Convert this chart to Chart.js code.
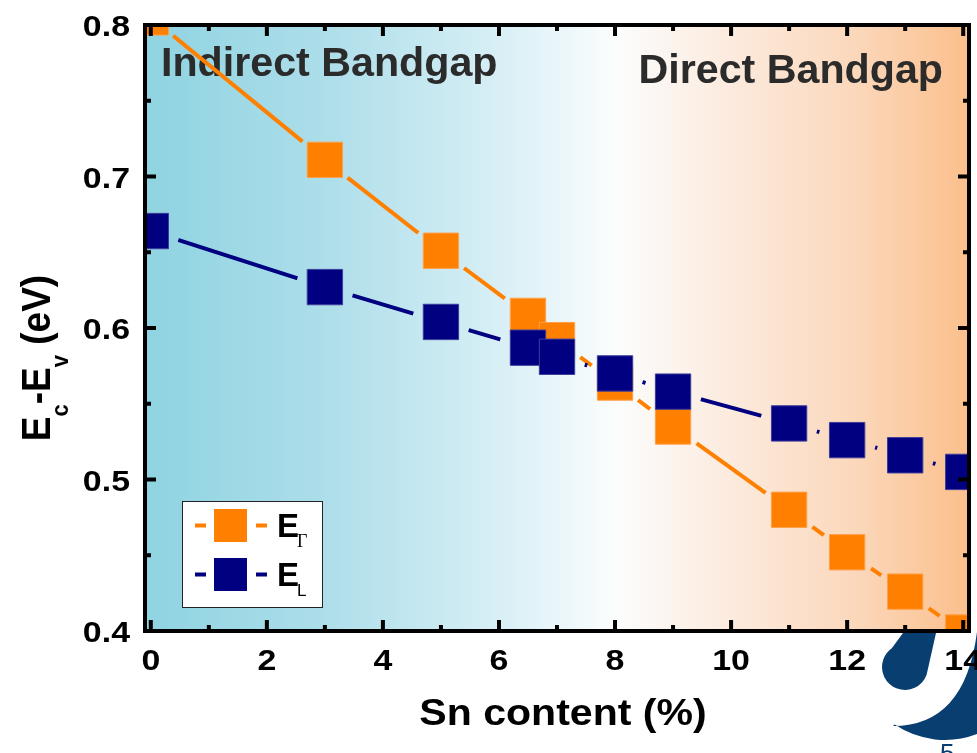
<!DOCTYPE html>
<html>
<head>
<meta charset="utf-8">
<script src="https://cdn.jsdelivr.net/npm/chart.js@4.4.1/dist/chart.umd.min.js"></script>
<style>
  html, body { margin: 0; padding: 0; background: #fff; }
  canvas { display: block; }
</style>
</head>
<body>
<canvas id="bandgap" width="977" height="753"></canvas>
<script>
// Sn content (%) against band edge energies (eV)
const snContent = [0, 3, 5, 6.5, 7, 8, 9, 11, 12, 13, 14];
const eGamma = [0.805, 0.711, 0.651, 0.608, 0.592, 0.564, 0.535, 0.480, 0.452, 0.426, 0.399];
const eL = [0.664, 0.627, 0.604, 0.587, 0.581, 0.570, 0.558, 0.537, 0.526, 0.516, 0.505];
const seriesNames = [['E', 'Γ'], ['E', 'L']];
const seriesColors = ['#ff8000', '#000080'];
const xTicks = [0, 2, 4, 6, 8, 10, 12, 14];
const yTicks = [0.4, 0.5, 0.6, 0.7, 0.8];
const xTitle = 'Sn content (%)';
const regionNames = ['Indirect Bandgap', 'Direct Bandgap'];

const FONT = '"Liberation Sans", Arial, sans-serif';
const GAP = 29; // radius of the hole in the line round each marker

function pts(ys) {
  return snContent.map((x, i) => ({ x: x, y: ys[i] }));
}

function stretchText(ctx, txt, x, y, font, align, sx) {
  ctx.save();
  ctx.translate(x, y);
  ctx.scale(sx, 1);
  ctx.font = font;
  ctx.textAlign = align;
  ctx.textBaseline = 'alphabetic';
  ctx.fillText(txt, 0, 0);
  ctx.restore();
}

function minors(ticks) {
  const out = [];
  for (let i = 0; i < ticks.length - 1; i++) out.push((ticks[i] + ticks[i + 1]) / 2);
  return out;
}

////////////////////////////// gradient background + region names //////////////////////////////
const backdrop = {
  id: 'backdrop',
  beforeDatasetsDraw(chart) {
    const { ctx, chartArea: a } = chart;
    const g = ctx.createLinearGradient(a.left, 0, a.right, 0);
    g.addColorStop(0, '#8fd3e1');
    g.addColorStop(0.22, '#addeea');
    g.addColorStop(0.44, '#daf0f6');
    g.addColorStop(0.57, '#fbfdfd');
    g.addColorStop(0.7, '#fcece0');
    g.addColorStop(0.86, '#fbd8bc');
    g.addColorStop(1, '#fbbf8c');
    ctx.save();
    ctx.fillStyle = g;
    ctx.fillRect(a.left, a.top, a.width, a.height);
    ctx.fillStyle = '#2b2b2b';
    stretchText(ctx, regionNames[0], a.left + 16, a.top + 51, 'bold 40px ' + FONT, 'left', 1.03);
    stretchText(ctx, regionNames[1], a.right - 26, a.top + 58, 'bold 40px ' + FONT, 'right', 1.03);
    ctx.restore();
  }
};

////////////////////////////// holes in the lines round the markers //////////////////////////////
const lineGaps = {
  id: 'lineGaps',
  beforeDatasetDraw(chart, args) {
    const ds = chart.data.datasets[args.index];
    if (!ds.gapped) return;
    const { ctx, scales } = chart;
    ctx.save();
    ds.data.forEach(p => {
      const cx = scales.x.getPixelForValue(p.x);
      const cy = scales.y.getPixelForValue(p.y);
      ctx.beginPath();
      ctx.rect(0, 0, chart.width, chart.height);
      ctx.moveTo(cx + GAP, cy);
      ctx.arc(cx, cy, GAP, 0, Math.PI * 2);
      ctx.clip('evenodd');
    });
  },
  afterDatasetDraw(chart, args) {
    if (chart.data.datasets[args.index].gapped) chart.ctx.restore();
  }
};

////////////////////////////// frame, inward ticks, legend //////////////////////////////
const frame = {
  id: 'frame',
  afterDatasetsDraw(chart) {
    const { ctx, chartArea: a, scales } = chart;
    ctx.save();
    ctx.strokeStyle = '#000';
    ctx.lineWidth = 4;
    ctx.strokeRect(a.left, a.top, a.width, a.height);
    const tick = (x1, y1, x2, y2) => {
      ctx.beginPath(); ctx.moveTo(x1, y1); ctx.lineTo(x2, y2); ctx.stroke();
    };
    [[xTicks, 11], [minors(xTicks), 6]].forEach(([vals, len]) => {
      vals.forEach(v => {
        const px = scales.x.getPixelForValue(v);
        tick(px, a.bottom, px, a.bottom - len);
        tick(px, a.top, px, a.top + len);
      });
    });
    [[yTicks, 11], [minors(yTicks), 6]].forEach(([vals, len]) => {
      vals.forEach(v => {
        const py = scales.y.getPixelForValue(v);
        tick(a.left, py, a.left + len, py);
        tick(a.right, py, a.right - len, py);
      });
    });

    // legend
    const bx = a.left + 37, by = a.bottom - 130;
    ctx.fillStyle = '#fff';
    ctx.fillRect(bx, by, 140, 106);
    ctx.lineWidth = 1;
    ctx.strokeStyle = '#222';
    ctx.strokeRect(bx + 0.5, by + 0.5, 140, 106);
    seriesNames.forEach((nm, i) => {
      const cy = by + 24.5 + i * 49;
      ctx.strokeStyle = seriesColors[i];
      ctx.lineWidth = 4;
      tick(bx + 13, cy, bx + 24, cy);
      tick(bx + 74, cy, bx + 85, cy);
      ctx.fillStyle = seriesColors[i];
      ctx.fillRect(bx + 32, cy - 16.5, 33, 33);
      ctx.fillStyle = '#000';
      ctx.font = 'bold 33px ' + FONT;
      ctx.textAlign = 'left';
      ctx.fillText(nm[0], bx + 95, cy + 11.5);
      ctx.font = i === 0 ? '18px "Liberation Serif", "Times New Roman", serif' : '17px ' + FONT;
      ctx.fillText(nm[1], bx + 115, cy + 21.5);
    });
    ctx.restore();
  }
};

////////////////////////////// tick labels, axis titles, logo //////////////////////////////
function drawLogo(ctx) {
  ctx.save();
  ctx.fillStyle = '#083e70';
  const d = Math.PI / 180;
  ctx.beginPath();
  ctx.moveTo(936, 633);
  ctx.lineTo(905 + 23 * Math.cos(20 * d), 667 + 23 * Math.sin(20 * d));
  ctx.arc(905, 667, 23, 20 * d, 235 * d);
  ctx.lineTo(903, 633);
  ctx.closePath();
  ctx.fill();
  ctx.beginPath();
  ctx.moveTo(893, 726);
  ctx.quadraticCurveTo(965, 726, 977, 632);
  ctx.lineTo(977, 734);
  ctx.arc(945, 650, 90, 69 * d, 124 * d);
  ctx.closePath();
  ctx.fill();
  ctx.font = '26px ' + FONT;
  ctx.fillText('5', 940, 762);
  ctx.restore();
}

const labels = {
  id: 'labels',
  afterDraw(chart) {
    const { ctx, chartArea: a, scales } = chart;
    drawLogo(ctx);
    ctx.save();
    ctx.fillStyle = '#000';
    xTicks.forEach(v => {
      stretchText(ctx, String(v), scales.x.getPixelForValue(v), a.bottom + 39, 'bold 30px ' + FONT, 'center', 1.13);
    });
    yTicks.forEach(v => {
      stretchText(ctx, v.toFixed(1), a.left - 15, scales.y.getPixelForValue(v) + 11, 'bold 30px ' + FONT, 'right', 1.13);
    });
    stretchText(ctx, xTitle, 563, a.bottom + 94, 'bold 36px ' + FONT, 'center', 1.14);

    // y title: E_c-E_v (eV), rotated
    const big = 'bold 37px ' + FONT, sub = 'bold 22px ' + FONT;
    const parts = [['E', big, 0], ['c', sub, 16], ['-E', big, 0], ['v', sub, 16], [' (eV)', big, 0]];
    let total = 0;
    parts.forEach(p => { ctx.font = p[1]; total += ctx.measureText(p[0]).width; });
    ctx.translate(50, 358);
    ctx.rotate(-Math.PI / 2);
    ctx.scale(1, 1.1);
    ctx.textAlign = 'left';
    let x = -total / 2;
    parts.forEach(p => {
      ctx.font = p[1];
      ctx.fillText(p[0], x, p[2]);
      x += ctx.measureText(p[0]).width;
    });
    ctx.restore();
  }
};

new Chart(document.getElementById('bandgap'), {
  type: 'line',
  data: {
    datasets: [
      {
        label: 'E_L',
        data: pts(eL),
        showLine: false,
        pointStyle: 'rect',
        pointRadius: 25,
        pointBackgroundColor: seriesColors[1],
        pointBorderColor: '#3c3c9c',
        pointBorderWidth: 1,
        clip: 0,
        order: 0
      },
      {
        label: 'E_Gamma',
        data: pts(eGamma),
        showLine: false,
        pointStyle: 'rect',
        pointRadius: 25,
        pointBackgroundColor: seriesColors[0],
        pointBorderColor: '#ffa04a',
        pointBorderWidth: 1,
        clip: 0,
        order: 1
      },
      {
        label: 'E_L line',
        data: pts(eL),
        borderColor: seriesColors[1],
        borderWidth: 4,
        pointRadius: 0,
        tension: 0,
        gapped: true,
        clip: 0,
        order: 2
      },
      {
        label: 'E_Gamma line',
        data: pts(eGamma),
        borderColor: seriesColors[0],
        borderWidth: 4,
        pointRadius: 0,
        tension: 0,
        gapped: true,
        clip: 0,
        order: 3
      }
    ]
  },
  options: {
    responsive: false,
    animation: false,
    events: [],
    layout: { autoPadding: false, padding: { top: 25, right: 8, left: 0, bottom: 0 } },
    plugins: { legend: { display: false }, tooltip: { enabled: false } },
    scales: {
      x: {
        type: 'linear',
        min: -0.1,
        max: 14.1,
        ticks: { display: false },
        grid: { display: false },
        border: { display: false },
        afterFit: s => { s.height = 122; }
      },
      y: {
        min: 0.4,
        max: 0.8,
        ticks: { display: false },
        grid: { display: false },
        border: { display: false },
        afterFit: s => { s.width = 145; }
      }
    }
  },
  plugins: [backdrop, lineGaps, frame, labels]
});
</script>
</body>
</html>
